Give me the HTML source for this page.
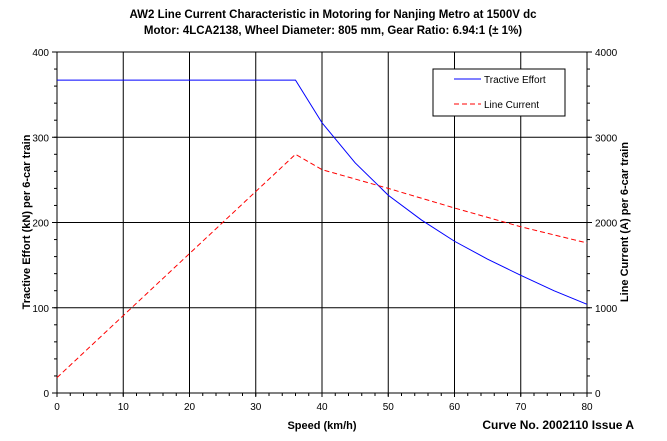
<!DOCTYPE html>
<html><head><meta charset="utf-8"><style>
body{margin:0;background:#fff;font-family:"Liberation Sans",sans-serif}
svg text{font-family:"Liberation Sans",sans-serif}
</style></head><body>
<svg id="c" width="667" height="436">
<text x="333" y="18" text-anchor="middle" font-size="11.5" font-weight="bold">AW2 Line Current Characteristic in Motoring for Nanjing Metro at 1500V dc</text>
<text x="333" y="34" text-anchor="middle" font-size="11.5" font-weight="bold">Motor: 4LCA2138, Wheel Diameter: 805 mm, Gear Ratio: 6.94:1 (± 1%)</text>
<text x="322" y="429" text-anchor="middle" font-size="11" font-weight="bold">Speed (km/h)</text>
<text x="634" y="429" text-anchor="end" font-size="12" font-weight="bold">Curve No. 2002110 Issue A</text>
<text transform="translate(30,222) rotate(-90)" text-anchor="middle" font-size="11" font-weight="bold">Tractive Effort (kN) per 6-car train</text>
<text transform="translate(628,222) rotate(-90)" text-anchor="middle" font-size="11" font-weight="bold">Line Current (A) per 6-car train</text>
<g id="grid"></g><g id="series"></g>
<g>
<rect x="433" y="69" width="132" height="47" fill="#fff" stroke="#000"/>
<line x1="454" y1="79" x2="481" y2="79" stroke="#00f"/>
<text x="484" y="83" font-size="10">Tractive Effort</text>
<line x1="454" y1="104" x2="481" y2="104" stroke="#f00" stroke-dasharray="5,3"/>
<text x="484" y="108" font-size="10">Line Current</text>
</g>
</svg>
<script>
const speeds=[0,36,40,45,50,55,60,65,70,75,80];
const tractiveEffort=[367,367,317,270,232,203,178,157,138,120,104];
const lcSpeeds=[0,36,40,50,60,70,80];
const lineCurrent=[180,2800,2620,2400,2170,1950,1760];
const xTicks=[0,10,20,30,40,50,60,70,80];
const yTicksL=[0,100,200,300,400];
const yTicksR=[0,1000,2000,3000,4000];
const L=57,R=587,T=52,B=393;
const X=v=>L+(R-L)*v/80, YL=v=>B-(B-T)*v/400, YR=v=>B-(B-T)*v/4000;
const NS="http://www.w3.org/2000/svg";
const g=document.getElementById('grid'), s=document.getElementById('series');
function mk(p,tag,a){const e=document.createElementNS(NS,tag);for(const k in a)e.setAttribute(k,a[k]);p.appendChild(e);return e;}
const frame=mk(g,'rect',{x:L,y:T,width:R-L,height:B-T,fill:'none',stroke:'#000'});


xTicks.forEach(v=>{
  const ln=mk(g,'line',{x1:X(v),x2:X(v),y1:T,y2:B+4,stroke:'#000'});
  
  
  const t=mk(g,'text',{x:X(v),y:B+17,'text-anchor':'middle','font-size':10});
  t.textContent=v;
  
  
});
for(let v=0;v<=80;v+=2) mk(g,'line',{x1:X(v),x2:X(v),y1:B,y2:B+3,stroke:'#000'});
for(let v=0;v<=400;v+=20){mk(g,'line',{x1:L-3,x2:L,y1:YL(v),y2:YL(v),stroke:'#000'});mk(g,'line',{x1:R,x2:R+3,y1:YL(v),y2:YL(v),stroke:'#000'});}
yTicksL.forEach(v=>{
  const ln=mk(g,'line',{x1:L-5,x2:R+5,y1:YL(v),y2:YL(v),stroke:'#000'});
  
  
  const t=mk(g,'text',{x:L-8,y:YL(v)+4,'text-anchor':'end','font-size':10});
  t.textContent=v;
  
  
});
yTicksR.forEach(v=>{
  const t=mk(g,'text',{x:R+8,y:YR(v)+4,'font-size':10});
  t.textContent=v;
  
  
});
const te=mk(s,'polyline',{points:speeds.map((v,i)=>X(v)+','+YL(tractiveEffort[i])).join(' '),fill:'none',stroke:'#00f'});


const lc=mk(s,'polyline',{points:lcSpeeds.map((v,i)=>X(v)+','+YR(lineCurrent[i])).join(' '),fill:'none',stroke:'#f00','stroke-dasharray':'5,3'});


</script>
</body></html>
